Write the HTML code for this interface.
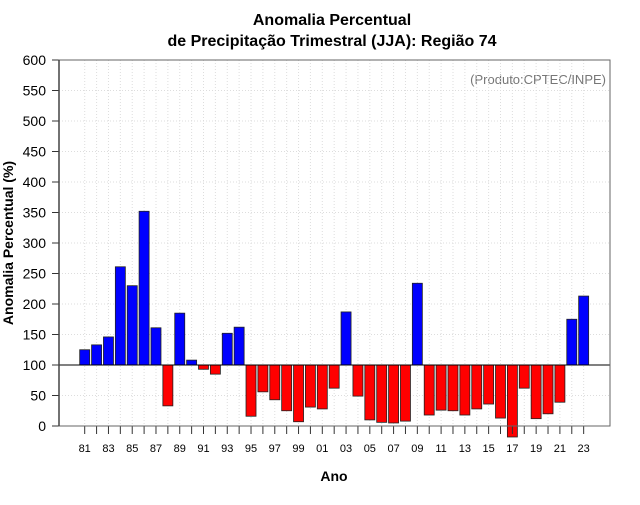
<!DOCTYPE html>
<html><head><meta charset="utf-8"><style>
body{margin:0;background:#fff;font-family:"Liberation Sans",sans-serif}
</style></head><body>
<svg id="chart" width="640" height="500" xmlns="http://www.w3.org/2000/svg" font-family="Liberation Sans, sans-serif">
<text x="332" y="25" text-anchor="middle" font-size="16" font-weight="bold">Anomalia Percentual</text>
<text x="332" y="46" text-anchor="middle" font-size="16" font-weight="bold">de Precipitação Trimestral (JJA): Região 74</text>
<text x="606" y="84" text-anchor="end" font-size="13" fill="#777">(Produto:CPTEC/INPE)</text>
<text x="334" y="481" text-anchor="middle" font-size="14" font-weight="bold">Ano</text>
<text transform="translate(13,243) rotate(-90)" text-anchor="middle" font-size="14" font-weight="bold">Anomalia Percentual (%)</text>
<g id="grid"></g><g id="bars"></g><g id="axes"></g>
</svg>
<script>
const years=[81,82,83,84,85,86,87,88,89,90,91,92,93,94,95,96,97,98,99,0,1,2,3,4,5,6,7,8,9,10,11,12,13,14,15,16,17,18,19,20,21,22,23];
const values=[125,133,146,261,230,352,161,33,185,108,93,85,152,162,16,56,43,25,7,31,28,62,187,49,10,6,5,8,234,18,26,25,18,28,36,13,-18,62,12,20,39,175,213];
const yTicks=[0,50,100,150,200,250,300,350,400,450,500,550,600];
const NS="http://www.w3.org/2000/svg";
const L=59,R=610,T=60,B=426;
const y=v=>B-(v/600)*(B-T);
const x=i=>84.7+i*11.88;
function mk(t,a,p){const e=document.createElementNS(NS,t);for(const k in a)e.setAttribute(k,a[k]);p.appendChild(e);return e;}
const grid=document.getElementById('grid'),bars=document.getElementById('bars'),axes=document.getElementById('axes');
yTicks.forEach(v=>{
 const g=mk('line',{x1:L,x2:R,y1:y(v),y2:y(v),stroke:'#ddd','stroke-dasharray':'1,2'},grid);
 
 
 const t=mk('line',{x1:52,x2:L,y1:y(v),y2:y(v),stroke:'#333'},axes);
 
 
 const l=mk('text',{x:46,y:y(v)+5,'text-anchor':'end','font-size':14},axes);
 l.textContent=v;
 
 
});
years.forEach((yr,i)=>{
 const g=mk('line',{x1:x(i),x2:x(i),y1:T,y2:B,stroke:'#ddd','stroke-dasharray':'1,2'},grid);
 
 
 const t=mk('line',{x1:x(i),x2:x(i),y1:B,y2:B+8,stroke:'#333'},axes);
 
 
 if(i%2===0){const l=mk('text',{x:x(i),y:452,'text-anchor':'middle','font-size':11},axes);
  l.textContent=String(yr).padStart(2,'0');
  
  }
 const v=values[i],top=Math.min(y(v),y(100)),h=Math.abs(y(v)-y(100));
 const b=mk('rect',{x:x(i)-5,y:top,width:10,height:h,fill:v>=100?'#0000ff':'#ff0000',stroke:'#222','stroke-width':0.8},bars);
 
 
});
const ref=mk('line',{x1:L,x2:R,y1:y(100),y2:y(100),stroke:'#000'},axes);


const box=mk('path',{d:`M${L},${T}H${R}V${B}H${L}Z`,fill:'none',stroke:'#666','stroke-width':1},axes);


const ya=mk('line',{x1:L,x2:L,y1:T,y2:B,stroke:'#444','stroke-width':1.5},axes);


</script>
</body></html>
